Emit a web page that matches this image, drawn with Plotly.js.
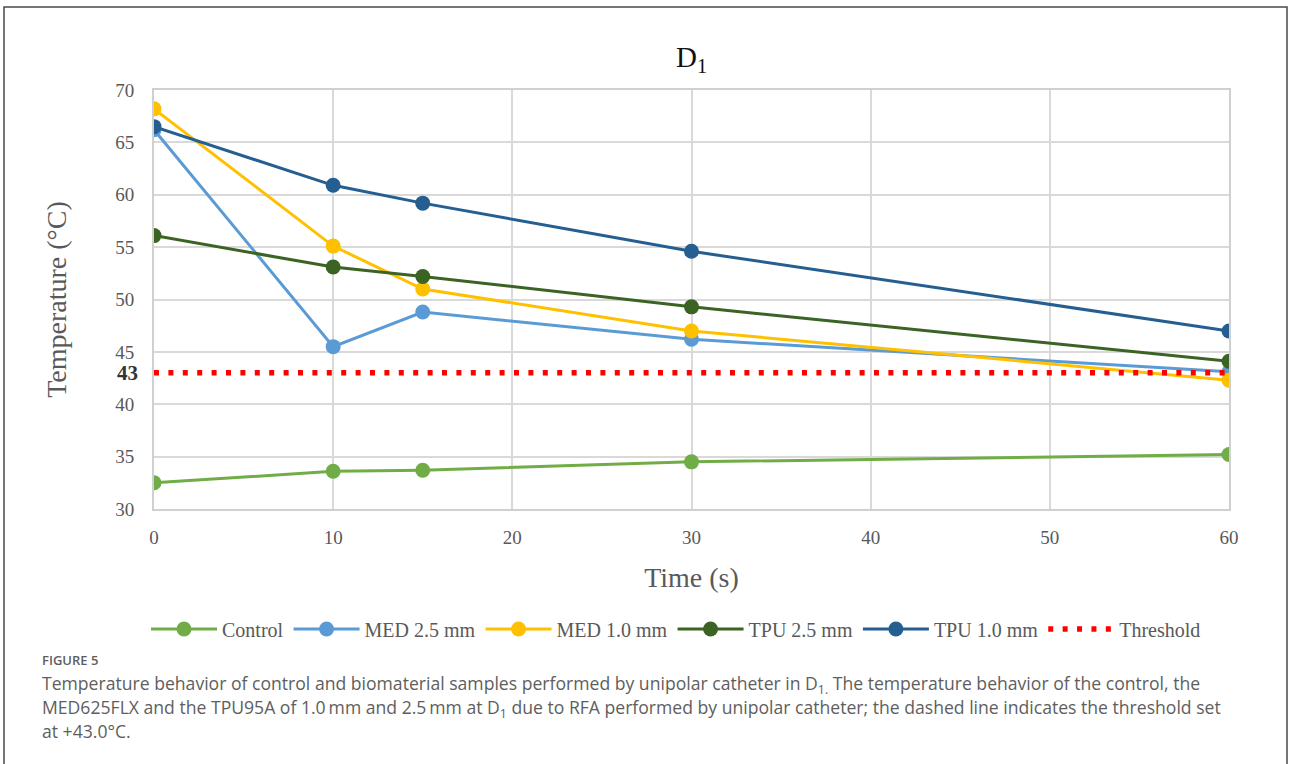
<!DOCTYPE html>
<html>
<head>
<meta charset="utf-8">
<script src="https://cdn.plot.ly/plotly-3.0.1.min.js"></script>
<style>
html,body{margin:0;padding:0;background:#fff;}
#chart{width:1290px;height:764px;}
</style>
</head>
<body>
<div id="chart"></div>
<script>
// Data
const timeS = [0, 10, 15, 30, 60];
const control = [32.5, 33.6, 33.7, 34.5, 35.2];
const med25 = [66.2, 45.5, 48.8, 46.2, 43.1];
const med10 = [68.2, 55.1, 51.0, 47.0, 42.3];
const tpu25 = [56.1, 53.1, 52.2, 49.3, 44.1];
const tpu10 = [66.5, 60.9, 59.2, 54.6, 47.0];
const thresholdX = [0, 60];
const thresholdY = [43, 43];
const seriesNames = ["Control", "MED 2.5 mm", "MED 1.0 mm", "TPU 2.5 mm", "TPU 1.0 mm", "Threshold"];
const seriesColors = ["#70AD47", "#5B9BD5", "#FFC000", "#3B6323", "#255E91", "#FF0000"];
const yTicks = [30, 35, 40, 45, 50, 55, 60, 65, 70];
const xTicks = [0, 10, 20, 30, 40, 50, 60];

const serif = "Liberation Serif, Times New Roman, serif";
const sans = "Open Sans, Lato, sans-serif";

function lineTrace(y, i) {
  return {
    x: timeS, y: y, name: seriesNames[i], type: "scatter", mode: "lines+markers",
    line: {color: seriesColors[i], width: 3},
    marker: {color: seriesColors[i], size: 15}
  };
}

const traces = [
  lineTrace(control, 0),
  lineTrace(med25, 1),
  lineTrace(med10, 2),
  lineTrace(tpu25, 3),
  lineTrace(tpu10, 4),
  {x: thresholdX, y: thresholdY, name: seriesNames[5], type: "scatter", mode: "lines",
   line: {color: seriesColors[5], width: 5.5, dash: "5px,9.4px"}}
];

// plot area: left 154, right 1229, top 90, bottom 509
const L = 154, R = 1229, T = 90, B = 509, W = 1290, H = 764;
const px = v => (v - L) / (R - L);
const py = v => (B - v) / (B - T);

const captionColor = "#5e5e5e";
const layout = {
  width: W, height: H,
  margin: {l: L, r: W - R, t: T, b: H - B},
  paper_bgcolor: "#fff", plot_bgcolor: "#fff",
  showlegend: true,
  title: {text: "D<sub>1</sub>", font: {family: serif, size: 29, color: "#111"},
          x: 0.5 * (L + R) / W, xref: "container", xanchor: "center",
          y: 1 - 57 / H, yref: "container", yanchor: "middle"},
  xaxis: {
    range: [0, 60], tickvals: xTicks, ticktext: xTicks.map(String),
    showgrid: true, gridcolor: "#d9d9d9", gridwidth: 2, zeroline: false,
    showline: true, linecolor: "#d0d0d0", linewidth: 2, mirror: true,
    ticks: "", ticklabelstandoff: 10,
    tickfont: {family: serif, size: 19, color: "#595959"},
    title: {text: "Time (s)", font: {family: serif, size: 28, color: "#595959"}, standoff: 21},
    automargin: false, fixedrange: true
  },
  yaxis: {
    range: [30, 70], tickvals: yTicks, ticktext: yTicks.map(String),
    showgrid: true, gridcolor: "#d9d9d9", gridwidth: 2, zeroline: false,
    showline: true, linecolor: "#d0d0d0", linewidth: 2, mirror: true,
    ticks: "", ticklabelstandoff: 14,
    tickfont: {family: serif, size: 19, color: "#595959"},
    title: {text: "Temperature (°C)", font: {family: serif, size: 28, color: "#595959"}, standoff: 40},
    automargin: false, fixedrange: true
  },
  legend: {
    orientation: "h", x: px(676), xanchor: "center",
    y: py(629), yanchor: "middle",
    font: {family: serif, size: 20, color: "#595959"},
    itemwidth: 66, tracegroupgap: 0, traceorder: "normal"
  },
  annotations: [
    {text: "<b>43</b>", xref: "paper", yref: "y", x: 0, y: 43, xanchor: "right", yanchor: "middle",
     xshift: -14, showarrow: false, font: {family: serif, size: 21, color: "#333"}},
    {text: "FIGURE 5", xref: "paper", yref: "paper", x: px(40), y: py(660), xanchor: "left", yanchor: "middle",
     showarrow: false, font: {family: sans, size: 13, color: captionColor, weight: 600}},
    {text: "Temperature behavior of control and biomaterial samples performed by unipolar catheter in D<sub>1.</sub> The temperature behavior of the control, the",
     xref: "paper", yref: "paper", x: px(40), y: py(684), xanchor: "left", yanchor: "middle",
     showarrow: false, font: {family: sans, size: 17.6, color: captionColor}},
    {text: "MED625FLX and the TPU95A of 1.0\u2009mm and 2.5\u2009mm at D<sub>1</sub> due to RFA performed by unipolar catheter; the dashed line indicates the threshold set",
     xref: "paper", yref: "paper", x: px(40), y: py(708), xanchor: "left", yanchor: "middle",
     showarrow: false, font: {family: sans, size: 17.6, color: captionColor}},
    {text: "at +43.0°C.",
     xref: "paper", yref: "paper", x: px(40), y: py(731), xanchor: "left", yanchor: "middle",
     showarrow: false, font: {family: sans, size: 17.6, color: captionColor}}
  ],
  shapes: [
    {type: "path", xref: "paper", yref: "paper",
     path: "M " + px(4) + "," + py(800) + " L " + px(4) + "," + py(7) + " L " + px(1287) + "," + py(7) + " L " + px(1287) + "," + py(800),
     line: {color: "#4a4a4a", width: 1.5}, layer: "above"}
  ]
};

Plotly.newPlot("chart", traces, layout, {displayModeBar: false, staticPlot: true});
</script>
</body>
</html>
